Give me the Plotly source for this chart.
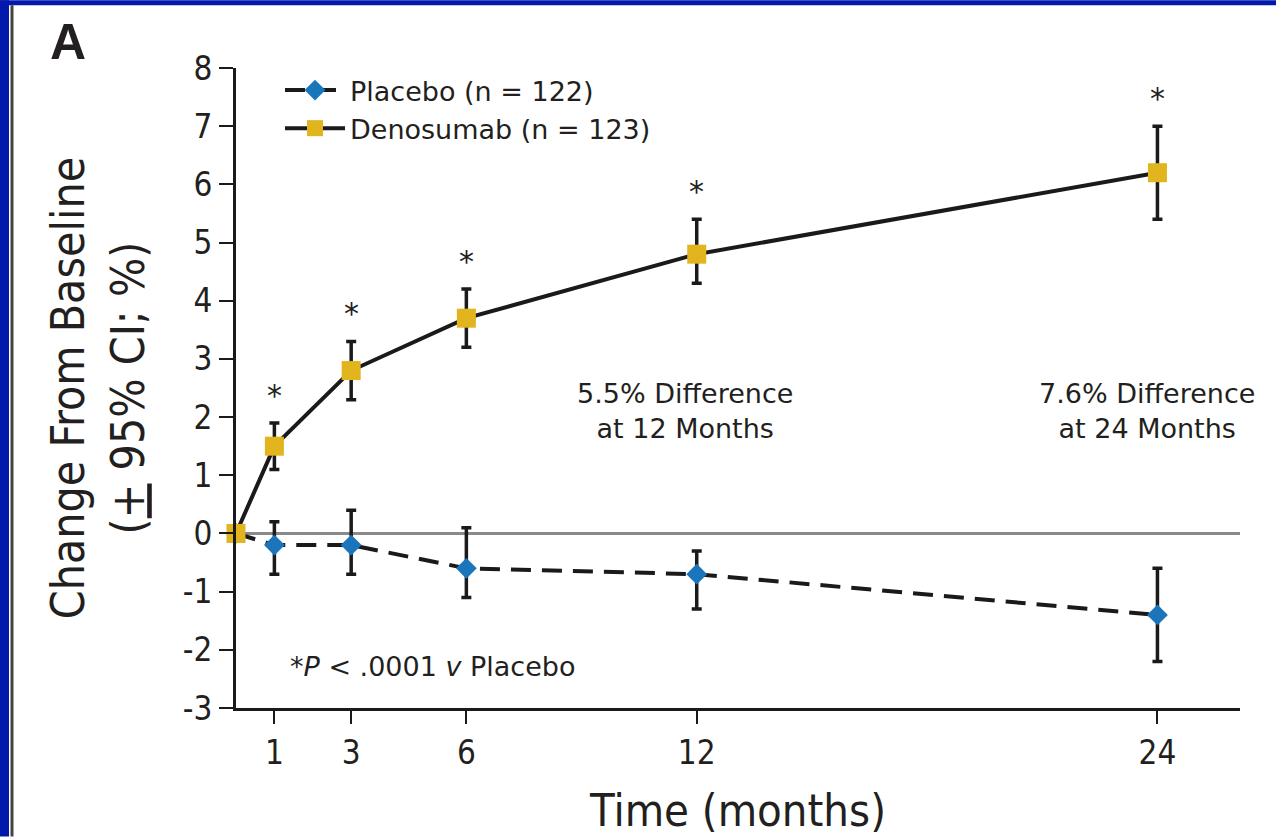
import plotly.graph_objects as go

# Study visits (months) and percent change from baseline with 95% CI
months = [0, 1, 3, 6, 12, 24]

placebo_mean = [0, -0.2, -0.2, -0.6, -0.7, -1.4]
placebo_lo = [0, -0.7, -0.7, -1.1, -1.3, -2.2]
placebo_hi = [0, 0.2, 0.4, 0.1, -0.3, -0.6]

denosumab_mean = [0, 1.5, 2.8, 3.7, 4.8, 6.2]
denosumab_lo = [0, 1.1, 2.3, 3.2, 4.3, 5.4]
denosumab_hi = [0, 1.9, 3.3, 4.2, 5.4, 7.0]

x_ticks = [1, 3, 6, 12, 24]
y_ticks = [-3, -2, -1, 0, 1, 2, 3, 4, 5, 6, 7, 8]

W, H = 1276, 839
L, R, T, B = 236, 36, 68, 129
PW, PH = W - L - R, H - T - B

TXT = "#231f20"
NARROW = "Liberation Sans Narrow, Arial Narrow, DejaVu Sans Condensed, sans-serif"
WIDE = "DejaVu Sans, Verdana, sans-serif"
SANS = "Liberation Sans, Arial, Helvetica, sans-serif"


def px_x(px):
    return (px - L) / PW


def px_y(py):
    return (H - B - py) / PH


def err(mean, lo, hi, first_visible=1):
    plus = [h - m if i >= first_visible else None for i, (m, h) in enumerate(zip(mean, hi))]
    minus = [m - l if i >= first_visible else None for i, (m, l) in enumerate(zip(mean, lo))]
    return plus, minus


pp, pm = err(placebo_mean, placebo_lo, placebo_hi)
dp, dm = err(denosumab_mean, denosumab_lo, denosumab_hi)

fig = go.Figure()

fig.add_trace(go.Scatter(
    x=months, y=placebo_mean, name="Placebo (n = 122)",
    mode="lines+markers",
    line=dict(color="#1a1a1a", width=4, dash="20px,11px"),
    marker=dict(symbol="diamond", size=16, color="#1b75bb"),
    error_y=dict(type="data", symmetric=False, array=pp, arrayminus=pm,
                 color="#1a1a1a", thickness=3.5, width=5),
    cliponaxis=False,
))

fig.add_trace(go.Scatter(
    x=months, y=denosumab_mean, name="Denosumab (n = 123)",
    mode="lines+markers",
    line=dict(color="#1a1a1a", width=4),
    marker=dict(symbol="square", size=19, color="#e2b41e"),
    error_y=dict(type="data", symmetric=False, array=dp, arrayminus=dm,
                 color="#1a1a1a", thickness=3.5, width=5),
    cliponaxis=False,
))

annotations = []

# significance markers above each denosumab CI
for m, h in zip(months[1:], denosumab_hi[1:]):
    annotations.append(dict(x=m, y=h, xref="x", yref="y", text="*", showarrow=False,
                            yshift=8, yanchor="bottom",
                            font=dict(family=WIDE, size=30, color=TXT)))

# between-group differences at 12 and 24 months
for idx, xc in ((4, 685), (5, 1147)):
    diff = denosumab_mean[idx] - placebo_mean[idx]
    annotations.append(dict(
        x=px_x(xc), y=px_y(412), xref="paper", yref="paper",
        text=f"{diff:.1f}% Difference<br>at {months[idx]} Months",
        showarrow=False, xanchor="center", yanchor="middle",
        font=dict(family=WIDE, size=27, color=TXT)))

annotations.append(dict(
    x=px_x(288), y=px_y(668), xref="paper", yref="paper",
    text="*<i>P</i> < .0001 <i>v</i> Placebo", showarrow=False,
    xanchor="left", yanchor="middle",
    font=dict(family=WIDE, size=27, color=TXT)))

annotations.append(dict(
    x=px_x(48), y=px_y(42), xref="paper", yref="paper",
    text="<b>A</b>", showarrow=False, xanchor="left", yanchor="middle",
    font=dict(family=SANS, size=50, color=TXT)))

shapes = [
    # page frame
    dict(type="rect", xref="paper", yref="paper", x0=px_x(0), x1=px_x(W),
         y0=px_y(5), y1=px_y(0), fillcolor="#0219ab", line_width=0, layer="above"),
    dict(type="rect", xref="paper", yref="paper", x0=px_x(0), x1=px_x(9),
         y0=px_y(H), y1=px_y(0), fillcolor="#0219ab", line_width=0, layer="above"),
    dict(type="line", xref="paper", yref="paper", x0=px_x(12), x1=px_x(12),
         y0=px_y(H), y1=px_y(5), line=dict(color="#444444", width=3), layer="above"),
]

fig.update_layout(
    width=W, height=H, autosize=False,
    margin=dict(l=L, r=R, t=T, b=B, pad=0),
    paper_bgcolor="white", plot_bgcolor="white",
    showlegend=True,
    legend=dict(x=px_x(280), y=px_y(66), xanchor="left", yanchor="top",
                bgcolor="rgba(0,0,0,0)", itemwidth=60, tracegroupgap=0,
                font=dict(family=WIDE, size=27, color=TXT)),
    annotations=annotations,
    shapes=shapes,
    xaxis=dict(
        range=[0, 26.15], tickmode="array", tickvals=x_ticks,
        ticktext=[str(v) for v in x_ticks],
        showgrid=False, zeroline=False,
        showline=True, linecolor="#1a1a1a", linewidth=3,
        ticks="outside", ticklen=13, tickwidth=2, tickcolor="#1a1a1a",
        tickfont=dict(family=NARROW, size=33, color=TXT),
        title=dict(text="Time (months)", standoff=24,
                   font=dict(family=NARROW, size=45, color=TXT)),
    ),
    yaxis=dict(
        range=[-3, 8], tickmode="array", tickvals=y_ticks,
        ticktext=[str(v) for v in y_ticks],
        showgrid=False,
        zeroline=True, zerolinecolor="#8a8a8a", zerolinewidth=3,
        showline=True, linecolor="#1a1a1a", linewidth=3,
        ticks="outside", ticklen=14, tickwidth=2, tickcolor="#1a1a1a",
        tickfont=dict(family=NARROW, size=33, color=TXT),
        title=dict(text="Change From Baseline<br>(<u>+</u> 95% CI; %)", standoff=24,
                   font=dict(family=NARROW, size=46, color=TXT)),
    ),
)

fig.write_html("out.html")
